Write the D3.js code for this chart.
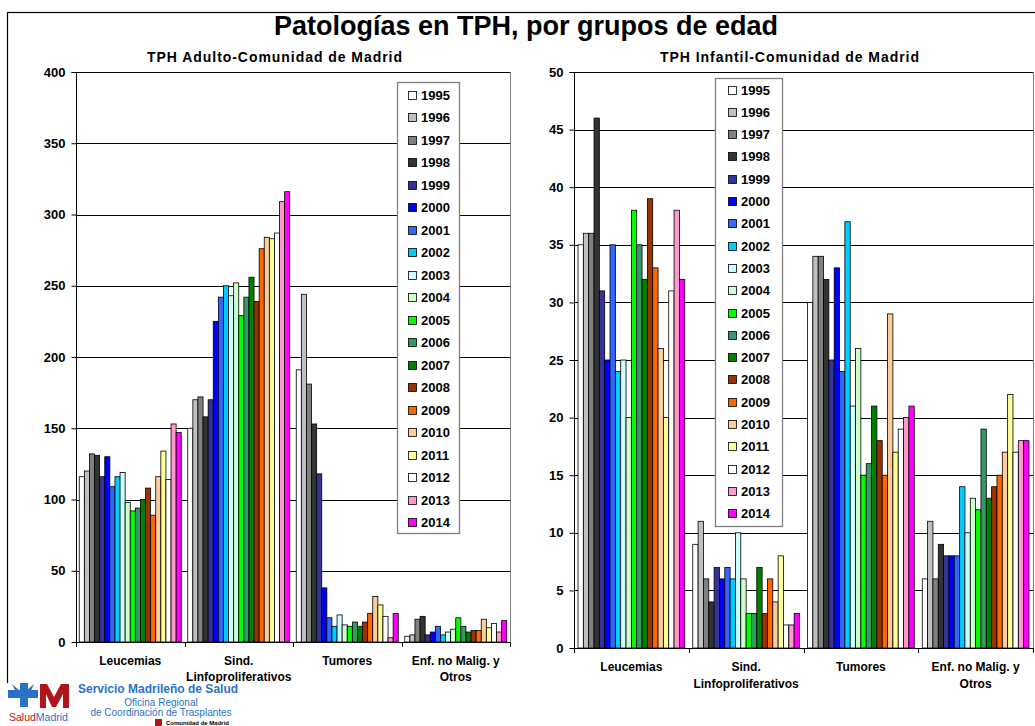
<!DOCTYPE html>
<html><head><meta charset="utf-8">
<script src="https://cdn.jsdelivr.net/npm/d3@7"></script>
<style>
body{margin:0;background:#fff;}
svg{display:block;font-family:"Liberation Sans",Arial,sans-serif;}
</style></head>
<body>
<svg id="c" width="1035" height="726"></svg>
<script>
const categories = ["Leucemias", "Sind. Linfoproliferativos", "Tumores", "Enf. no Malig. y Otros"];
const categoryLines = [["Leucemias"], ["Sind.", "Linfoproliferativos"], ["Tumores"], ["Enf. no Malig. y", "Otros"]];
const years = ["1995","1996","1997","1998","1999","2000","2001","2002","2003","2004","2005","2006","2007","2008","2009","2010","2011","2012","2013","2014"];
const yearColors = ["#FFFFFF","#C0C0C0","#808080","#333333","#333399","#0000FF","#3366FF","#00CCFF","#CCFFFF","#CCFFCC","#00FF00","#339966","#008000","#993300","#FF6600","#FFCC99","#FFFF99","#FFFFFF","#FF99CC","#FF00FF"];

// Adult values (per category, by year 1995..2014)
const adultLeucemias = [116,120,132,131,116,130,109,116,119,98,92,94,100,108,89,116,134,114,153,147];
const adultSind      = [150,170,172,158,170,225,242,250,243,252,229,242,256,239,276,284,283,287,309,316];
const adultTumores   = [191,244,181,153,118,38,17,11,19,12,11,14,11,14,20,32,26,18,3,20];
const adultEnf       = [4,5,16,18,5,7,11,5,7,9,17,11,7,8,8,16,10,13,7,15];

// Child values
const childLeucemias = [35,36,36,46,31,25,35,24,25,20,38,35,32,39,33,26,20,31,38,32];
const childSind      = [9,11,6,4,7,6,7,6,10,6,3,3,7,3,6,4,8,2,2,3];
const childTumores   = [30,34,34,32,25,33,24,37,21,26,15,16,21,18,15,29,17,19,20,21];
const childEnf       = [6,11,6,9,8,8,8,14,10,13,12,19,13,14,15,17,22,17,18,18];

const adultTicks = [0,50,100,150,200,250,300,350,400];
const childTicks = [0,5,10,15,20,25,30,35,40,45,50];

const adultData = [adultLeucemias, adultSind, adultTumores, adultEnf];
const childData = [childLeucemias, childSind, childTumores, childEnf];

const svg = d3.select("#c");
const FONT = '"Liberation Sans",Arial,sans-serif';

// frame
svg.append("rect").attr("x",7.5).attr("y",12.5).attr("width",1100).attr("height",800)
  .attr("fill","none").attr("stroke","#000").attr("stroke-width",1.2);

svg.append("text").attr("x",526).attr("y",35).attr("text-anchor","middle")
  .attr("font-size",27).attr("font-weight","bold").text("Patologías en TPH, por grupos de edad");

function drawChart(cfg){
  const g = svg.append("g");
  const x0 = d3.scaleBand().domain(categories).range([cfg.x0, cfg.x1]).paddingInner(cfg.padIn).paddingOuter(cfg.padOut);
  const xCat = d3.scaleBand().domain(categories).range([cfg.x0, cfg.x1]);
  const x1 = d3.scaleBand().domain(years).range([0, x0.bandwidth()]);
  const y = d3.scaleLinear().domain([0, cfg.max]).range([cfg.y1, cfg.y0]);

  // subtitle
  g.append("text").attr("x",cfg.subX).attr("y",62).attr("text-anchor","middle")
    .attr("font-size",14).attr("font-weight","bold").attr("letter-spacing",0.95).text(cfg.subtitle);

  // gridlines
  g.append("g").selectAll("line").data(cfg.ticks.slice(1)).join("line")
    .attr("x1",cfg.x0).attr("x2",cfg.x1)
    .attr("y1",d=>Math.round(y(d))+0.5).attr("y2",d=>Math.round(y(d))+0.5)
    .attr("stroke","#000").attr("stroke-width",1);
  // right border
  g.append("line").attr("x1",cfg.x1+0.5).attr("x2",cfg.x1+0.5).attr("y1",cfg.y0).attr("y2",cfg.y1)
    .attr("stroke","#808080");

  // bars
  const groups = g.append("g").selectAll("g").data(categories).join("g")
    .attr("transform",c=>`translate(${x0(c)},0)`);
  groups.selectAll("rect").data((c,i)=>years.map((yr,j)=>({yr, v: cfg.data[i][j], col: yearColors[j]})))
    .join("rect")
    .attr("x",d=>x1(d.yr)).attr("width",x1.bandwidth())
    .attr("y",d=>y(d.v)).attr("height",d=>y(0)-y(d.v))
    .attr("fill",d=>d.col).attr("stroke","#000").attr("stroke-width",0.8);

  // y axis
  const ya = d3.axisLeft(y).tickValues(cfg.ticks).tickSize(5).tickPadding(6);
  const yg = g.append("g").attr("transform",`translate(${cfg.x0+0.5},0)`).call(ya);
  yg.selectAll("text").attr("font-size",13).attr("font-weight","bold").attr("font-family",FONT).attr("fill","#000");
  yg.selectAll("line,path").attr("stroke","#000");
  yg.select(".domain").attr("d",`M-5,${y(cfg.max)+0.5}H0V${y(0)+0.5}`);

  // x axis
  g.append("line").attr("x1",cfg.x0).attr("x2",cfg.x1+0.5).attr("y1",Math.round(y(0))+0.5).attr("y2",Math.round(y(0))+0.5).attr("stroke","#000");
  const bounds = categories.map(c=>xCat(c)).concat([cfg.x1]);
  g.append("g").selectAll("line").data(bounds).join("line")
    .attr("x1",d=>Math.round(d)+0.5).attr("x2",d=>Math.round(d)+0.5)
    .attr("y1",y(0)).attr("y2",y(0)+5).attr("stroke","#000");
  categories.forEach((c,i)=>{
    const t = g.append("text").attr("text-anchor","middle").attr("font-size",12).attr("font-weight","bold");
    categoryLines[i].forEach((ln,k)=>{
      t.append("tspan").attr("x",xCat(c)+xCat.bandwidth()/2).attr("y",y(0)+23+k*cfg.lineGap).text(ln);
    });
  });

  // legend
  const lg = g.append("g");
  lg.append("rect").attr("x",cfg.lx+0.5).attr("y",cfg.ly+0.5).attr("width",cfg.lw).attr("height",cfg.lh)
    .attr("fill","#fff").attr("stroke","#808080").attr("stroke-width",1.3);
  years.forEach((yr,j)=>{
    const cy = cfg.ly0 + j*cfg.lstep;
    lg.append("rect").attr("x",cfg.sx+0.5).attr("y",Math.round(cy-4.5)+0.5).attr("width",8).attr("height",8)
      .attr("fill",yearColors[j]).attr("stroke","#000").attr("stroke-width",0.8);
    lg.append("text").attr("x",cfg.sx+13).attr("y",cy+4.5).attr("font-size",13).attr("font-weight","bold").text(yr);
  });
}

drawChart({x0:76, x1:510, y0:72, y1:642, max:400, ticks:adultTicks, data:adultData,
  padIn:0.06, padOut:0.03, subtitle:"TPH Adulto-Comunidad de Madrid", subX:275, lineGap:16,
  lx:397, ly:82, lw:62, lh:451, ly0:95, lstep:22.5, sx:408});
drawChart({x0:574, x1:1033, y0:72, y1:648, max:50, ticks:childTicks, data:childData,
  padIn:0.07, padOut:0.035, subtitle:"TPH Infantil-Comunidad de Madrid", subX:790, lineGap:17,
  lx:715, ly:78, lw:67, lh:448, ly0:90, lstep:22.3, sx:728});

// logo area (bottom-left)
const logo = svg.append("g");
logo.append("rect").attr("x",0).attr("y",683).attr("width",245).attr("height",43).attr("fill","#fff");
// blue star-like cross
logo.append("path").attr("d","M8,690 L20,690 L20,683 L28,683 L28,690 L38,690 L38,698 L28,698 L28,707 L20,707 L20,698 L8,698 Z").attr("fill","#2a72c8");
logo.append("path").attr("d","M12,684 L20,691 L17,694 Z M34,684 L30,693 L27,690 Z").attr("fill","#2a72c8");
// red M
logo.append("path").attr("d","M40,708 L40,684 L47,684 L54,697 L61,684 L69,684 L69,708 L63,708 L63,694 L56,707 L52,707 L46,694 L46,708 Z").attr("fill","#b0141c");
const sm = logo.append("text").attr("x",9).attr("y",721).attr("font-size",10.5).attr("font-family",FONT);
sm.append("tspan").attr("fill","#b0141c").text("Salud");
sm.append("tspan").attr("fill","#2a72c8").text("Madrid");
logo.append("text").attr("x",78).attr("y",693).attr("font-size",12).attr("font-weight","bold").attr("fill","#2a72c8").text("Servicio Madrileño de Salud");
logo.append("text").attr("x",161).attr("y",706).attr("text-anchor","middle").attr("font-size",10).attr("fill","#2a72c8").text("Oficina Regional");
logo.append("text").attr("x",161).attr("y",716).attr("text-anchor","middle").attr("font-size",10).attr("fill","#2a72c8").text("de Coordinación de Trasplantes");
logo.append("rect").attr("x",155).attr("y",719).attr("width",7).attr("height",7).attr("fill","#b0141c");
logo.append("text").attr("x",166).attr("y",725).attr("font-size",6).attr("font-weight","bold").attr("fill","#000").text("Comunidad de Madrid");
</script>
</body></html>
